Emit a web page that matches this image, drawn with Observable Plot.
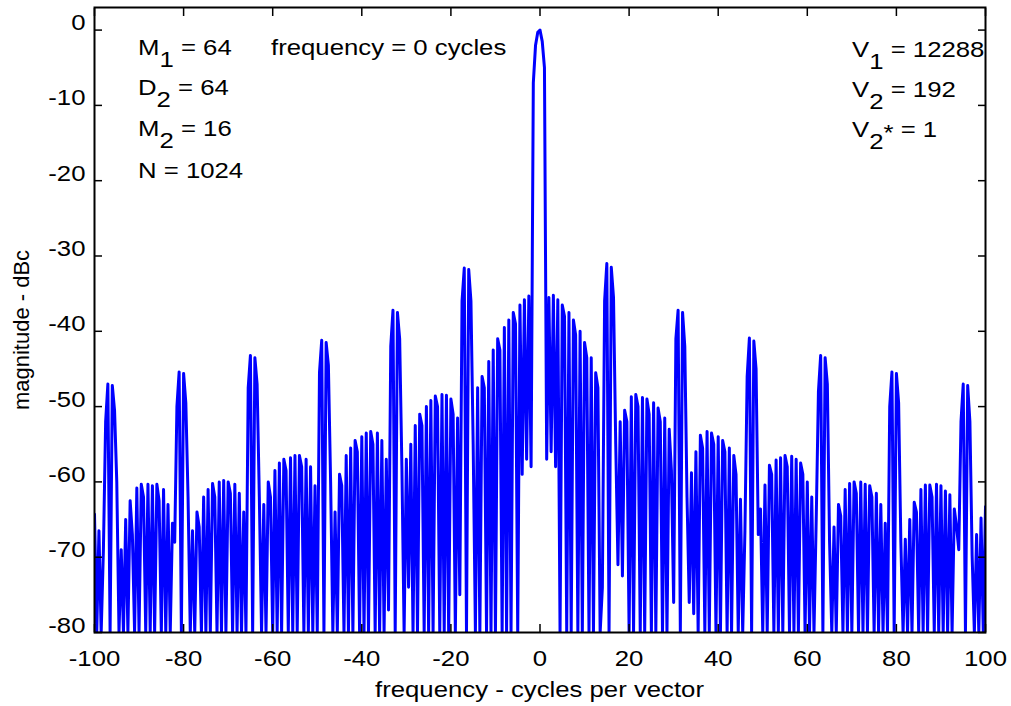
<!DOCTYPE html>
<html><head><meta charset="utf-8">
<script src="https://cdn.jsdelivr.net/npm/d3@7"></script>
<script src="https://cdn.jsdelivr.net/npm/@observablehq/plot@0.6"></script>
<style>
body{margin:0;background:#fff;}
#chart{width:1011px;height:706px;}
</style></head><body><div id="chart"></div>
<script>
// frequency grid: -100 .. 100 cycles per vector, every half cycle
const frequencyStart = -100;
const frequencyStep = 0.5;

// magnitude (dBc) for frequencies -100 .. -0.5
const magnitudeNeg = [
  -64.3, -80, -66.5, -80, -69, -52, -47, -80, -47.2, -50.5,
  -60, -80, -69, -80, -65, -80, -62.5, -67, -80, -60.8,
  -80, -60.3, -62, -80, -60.3, -80, -60.5, -80, -60.3, -62.5,
  -80, -61, -80, -63, -80, -65.5, -68, -50, -45.4, -80,
  -45.6, -49.5, -62, -80, -66.5, -80, -64, -66, -80, -62,
  -80, -61, -80, -60.2, -62, -80, -60, -80, -59.8, -80,
  -60, -61.5, -80, -60.3, -80, -61.5, -80, -64, -80, -47.5,
  -43.2, -80, -43.5, -47, -62, -80, -63, -80, -60, -62,
  -80, -58.5, -80, -57.5, -80, -57, -58.5, -80, -56.8, -80,
  -56.5, -80, -56.5, -58, -80, -57, -80, -58, -80, -60.5,
  -80, -45.5, -41.2, -80, -41.5, -44.5, -60, -80, -64, -80,
  -59, -60.5, -80, -56.5, -80, -55.5, -80, -54.5, -56, -80,
  -54, -80, -53.5, -80, -53.3, -55, -80, -53.5, -80, -54.5,
  -80, -57, -77, -42, -37.2, -80, -37.5, -41, -58, -80,
  -57, -74, -55, -80, -52.5, -80, -51, -52.5, -80, -50,
  -80, -49.2, -80, -48.6, -50, -80, -48.4, -80, -48.5, -80,
  -49, -51, -80, -51.5, -75, -36, -31.6, -80, -31.8, -36,
  -55, -80, -47.5, -80, -46, -47.5, -80, -44, -80, -42.5,
  -80, -41, -42.5, -80, -39.5, -80, -38.5, -80, -37.5, -39,
  -80, -36.5, -59, -35.8, -57, -35.3, -58, -7, -2, -0.3
];

// magnitude (dBc) for frequencies 0 .. 100
const magnitudePos = [
  0, -1.5, -5, -57, -35.5, -56, -35.2, -58, -35.8, -80,
  -36.5, -38, -80, -37.5, -80, -38.5, -40.5, -80, -40, -80,
  -41.5, -43.5, -80, -43.5, -80, -45.5, -47.5, -80, -74, -36,
  -31, -80, -31.5, -35.5, -55, -71, -52, -72.5, -50.5, -52,
  -80, -48.7, -80, -48.4, -50, -80, -48.8, -80, -49, -51,
  -80, -49.5, -80, -50.2, -52, -80, -51.5, -80, -53, -58.5,
  -76, -41, -37.2, -80, -37.5, -42, -62, -76, -58.8, -77.5,
  -56, -80, -53.8, -55.5, -80, -53.3, -80, -53.5, -55, -80,
  -54, -80, -54.5, -56, -80, -55.5, -80, -56.5, -59, -80,
  -62.3, -80, -66.5, -46, -40.9, -80, -41.3, -45, -67, -63.6,
  -80, -60.4, -80, -57.8, -59, -80, -57.1, -80, -56.8, -80,
  -56.5, -58, -80, -56.6, -80, -57, -80, -57.5, -59, -80,
  -60, -80, -62, -80, -65, -48, -43.2, -80, -43.5, -47,
  -68, -80, -66, -80, -63, -64.5, -80, -61, -80, -60.2,
  -80, -60, -61.5, -80, -60, -80, -60.3, -80, -60.5, -62,
  -80, -61.5, -80, -63, -80, -65.5, -80, -50, -45.4, -80,
  -45.6, -49.5, -68, -80, -67.6, -80, -65, -80, -62.7, -64,
  -80, -61, -80, -60.4, -80, -60.4, -62, -80, -60.3, -80,
  -60.5, -80, -61.2, -80, -61.7, -80, -63.6, -65.9, -69, -52,
  -47, -80, -47.2, -52, -69.8, -80, -67, -80, -64.8, -80,
  -63.3
];

const xTicks = [-100, -80, -60, -40, -20, 0, 20, 40, 60, 80, 100];
const yTicks = [-80, -70, -60, -50, -40, -30, -20, -10, 0];
const xLabel = "frequency - cycles per vector";
const yLabel = "magnitude - dBc";

// parameter annotations: [text, role] pieces ("sub" = lowered, "star" = asterisk)
const leftNotes = [
  [["M"], ["1", "sub"], [" = 64"]],
  [["D"], ["2", "sub"], [" = 64"]],
  [["M"], ["2", "sub"], [" = 16"]],
  [["N = 1024"]]
];
const centerNote = [["frequency = 0 cycles"]];
const rightNotes = [
  [["V"], ["1", "sub"], [" = 12288"]],
  [["V"], ["2", "sub"], [" = 192"]],
  [["V"], ["2", "sub"], ["*", "star"], [" = 1"]]
];

const magnitude = magnitudeNeg.concat(magnitudePos);
const data = magnitude.map((m, i) => ({f: frequencyStart + i * frequencyStep, m}));

const FONT = "'Liberation Sans', Arial, Helvetica, sans-serif";
const SX = 1.17;

const plot = Plot.plot({
  width: 1011, height: 706,
  marginLeft: 94, marginRight: 26, marginTop: 7, marginBottom: 74,
  x: {domain: [-100, 100]},
  y: {domain: [-80, 3]},
  style: {fontFamily: FONT, fontSize: "22px", background: "white", color: "black", overflow: "visible"},
  marks: [
    Plot.line(data, {x: "f", y: "m", stroke: "#0000ff", strokeWidth: 3, clip: true}),
    Plot.frame({stroke: "black", strokeWidth: 2}),
    Plot.axisX({anchor: "bottom", ticks: xTicks, tickSize: -8, tickPadding: 41, tickFormat: d => String(d), label: null, strokeWidth: 1.5}),
    Plot.axisX({anchor: "top", ticks: xTicks, tickSize: -8, tickFormat: () => "", label: null, strokeWidth: 1.5}),
    Plot.axisY({anchor: "left", ticks: yTicks, tickSize: -8, tickPadding: 17, tickFormat: d => String(d), label: null, strokeWidth: 1.5}),
    Plot.axisY({anchor: "right", ticks: yTicks, tickSize: -8, tickFormat: () => "", label: null, strokeWidth: 1.5})
  ]
});

const svg = d3.select(plot);
// horizontally widen tick labels like the reference
svg.selectAll("g[aria-label$='tick label'] text").each(function() {
  const x = +this.getAttribute("x") || 0, y = +this.getAttribute("y") || 0;
  this.removeAttribute("x"); this.removeAttribute("y");
  const t = this.getAttribute("transform") || "";
  this.setAttribute("transform", `${t} translate(${x},${y}) scale(${SX},1)`);
});

const roleOffset = {sub: 0.53, star: 0.15};
function note(parts, x, y, anchor = "start", rotate = 0) {
  const t = svg.append("text")
    .attr("transform", `translate(${x},${y}) rotate(${rotate}) scale(${rotate ? 1 : SX},1)`)
    .attr("text-anchor", anchor)
    .attr("font-family", FONT).attr("font-size", 22).attr("fill", "black")
    .style("white-space", "pre");
  let current = 0;
  for (const [s, role] of parts) {
    const target = roleOffset[role] || 0;
    const sp = t.append("tspan").text(s);
    if (target !== current) sp.attr("dy", `${(target - current).toFixed(2)}em`);
    current = target;
  }
  return t;
}

const leftBase = [55, 95, 136, 178];
leftNotes.forEach((p, i) => note(p, 138, leftBase[i]));
note(centerNote, 271, 55);
const rightBase = [57, 97, 137];
rightNotes.forEach((p, i) => note(p, 852, rightBase[i]));
note([[xLabel]], 539.5, 697, "middle");
note([[yLabel]], 29, 330, "middle", -90);

document.getElementById("chart").appendChild(plot);
</script>
</body></html>
